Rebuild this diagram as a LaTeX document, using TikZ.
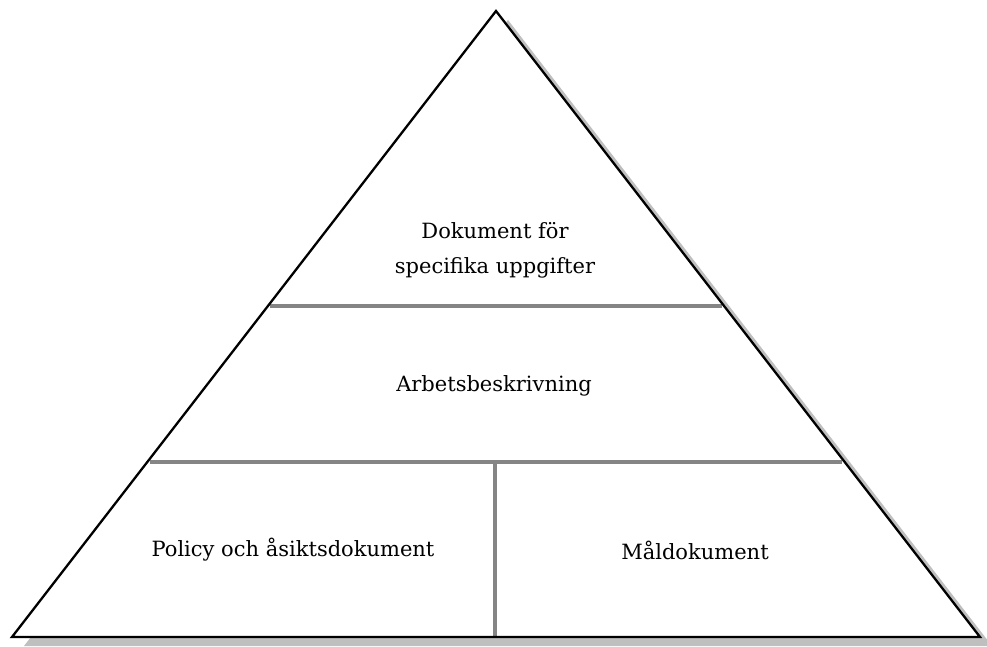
\documentclass[tikz,border=0pt]{standalone}
\usepackage{fontspec}
\setmainfont{DejaVu Serif}
\begin{document}
\begin{tikzpicture}[x=1pt,y=-1pt,
  divider/.style={draw=black!48,line width=3.5pt},
  label/.style={font=\fontsize{21}{35}\selectfont,align=center,inner sep=0pt}]
\useasboundingbox (0,0) rectangle (987,647);
\coordinate (A) at (496,11);
\coordinate (L) at (12,637);
\coordinate (R) at (980,637);
\fill[black!25] ([shift={(12,9)}]A) -- ([shift={(12,9)}]L) -- ([shift={(12,9)}]R) -- cycle;
\fill[white] (A) -- (L) -- (R) -- cycle;
\coordinate (h1l) at (270,306);
\coordinate (h1r) at (722,306);
\coordinate (h2l) at (150,462);
\coordinate (h2r) at (842,462);
\coordinate (vt) at (495,462);
\coordinate (vb) at (495,637);
\draw[divider] (h1l) -- (h1r);
\draw[divider] (h2l) -- (h2r);
\draw[divider] (vt) -- (vb);
\draw[line width=2.3pt,line join=miter] (A) -- (L) -- (R) -- cycle;
\node[label] (t1) at (495,250) {Dokument för\\specifika uppgifter};
\node[label] (t2) at (494,386) {Arbetsbeskrivning};
\node[label] (t3) at (293,550) {Policy och åsiktsdokument};
\node[label] (t4) at (695,550) {Måldokument};
\end{tikzpicture}
\end{document}
